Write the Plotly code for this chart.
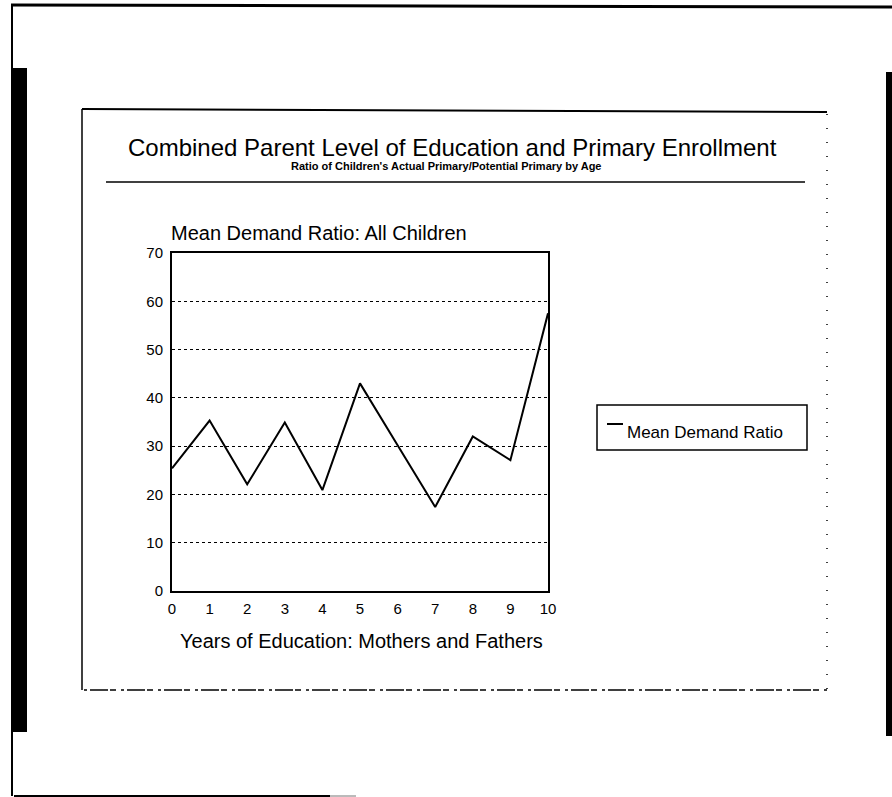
import plotly.graph_objects as go

# Mean demand ratio by combined years of parental education
years = [0, 1, 2, 3, 4, 5, 6, 7, 8, 9, 10]
mean_demand_ratio = [25.4, 35.3, 22.1, 34.9, 20.9, 43.0, 30.2, 17.4, 32.0, 27.1, 57.5]
series_name = "Mean Demand Ratio"

title_text = "Combined Parent Level of Education and Primary Enrollment"
subtitle_text = "Ratio of Children's Actual Primary/Potential Primary by Age"
y_title_text = "Mean Demand Ratio: All Children"
x_title_text = "Years of Education: Mothers and Fathers"
y_ticks = [0, 10, 20, 30, 40, 50, 60, 70]

W, H = 892, 797
FONT = "Liberation Sans"


def px(x):
    return x / W


def py(y):
    return 1 - y / H


fig = go.Figure()
fig.add_trace(go.Scatter(
    x=years, y=mean_demand_ratio, mode="lines", name=series_name,
    line=dict(color="black", width=2), showlegend=False,
))

fig.update_layout(
    width=W, height=H,
    margin=dict(l=0, r=0, t=0, b=0, autoexpand=False),
    paper_bgcolor="white", plot_bgcolor="white",
    font=dict(family=FONT, color="black"),
    showlegend=False,
    xaxis=dict(
        domain=[px(172), px(548)], range=[0, 10], automargin=False,
        tickmode="array", tickvals=years, ticktext=[str(v) for v in years],
        showgrid=False, zeroline=False,
        showline=True, linecolor="black", linewidth=2, mirror=True,
        ticks="", ticklabelstandoff=3,
        tickfont=dict(size=15, family=FONT),
    ),
    yaxis=dict(
        domain=[py(591), py(253)], range=[0, 70], automargin=False,
        tickmode="array", tickvals=y_ticks, ticktext=[str(v) for v in y_ticks],
        showgrid=True, gridcolor="black", gridwidth=1, griddash="dot",
        zeroline=False,
        showline=True, linecolor="black", linewidth=2, mirror=True,
        ticks="", ticklabelstandoff=4,
        tickfont=dict(size=15, family=FONT),
    ),
)


def pline(x0, y0, x1, y1, width, color="black", dash=None):
    ln = dict(color=color, width=width)
    if dash:
        ln["dash"] = dash
    return dict(type="line", xref="paper", yref="paper",
                x0=px(x0), x1=px(x1), y0=py(y0), y1=py(y1), line=ln)


def prect(x0, y0, x1, y1, fill=None, width=0, color="black"):
    d = dict(type="rect", xref="paper", yref="paper",
             x0=px(x0), x1=px(x1), y0=py(y0), y1=py(y1),
             line=dict(color=color, width=width))
    if fill:
        d["fillcolor"] = fill
    return d


shapes = [
    # page border and dark scan edges
    pline(11, 5, 892, 7, 3),
    pline(12, 5, 12, 796, 2),
    prect(11, 68, 27, 732, fill="black"),
    prect(886, 72, 892, 736, fill="black"),
    pline(14, 796, 330, 796, 2),
    pline(330, 796, 356, 796, 1, color="#777"),
    # chart frame
    pline(82, 109, 827, 112, 2),
    pline(82, 109, 82, 690, 1.5),
    pline(827, 114, 827, 690, 1.5, dash="1px,13px"),
    pline(84, 690, 827, 690, 1.5, dash="3px,3px,18px,2px,6px,5px"),
    # rule under the titles
    pline(106, 182, 805, 182, 1.5),
    # legend box and swatch
    prect(597, 405, 807, 450, width=1.5),
    pline(607, 424, 623, 424, 2),
]
fig.update_layout(shapes=shapes)


def note(text, x, y, size, anchor="center"):
    return dict(text=text, x=px(x), y=py(y), xref="paper", yref="paper",
                xanchor=anchor, yanchor="middle", showarrow=False,
                font=dict(size=size, family=FONT))


annotations = [
    note(title_text, 453, 147, 24),
    note("<b>" + subtitle_text + "</b>", 447, 166, 11),
    note(y_title_text, 169, 233, 20, anchor="left"),
    note(x_title_text, 361, 641, 20),
    note(series_name, 625, 432, 17, anchor="left"),
]
fig.update_layout(annotations=annotations)

fig.write_html("out.html")
